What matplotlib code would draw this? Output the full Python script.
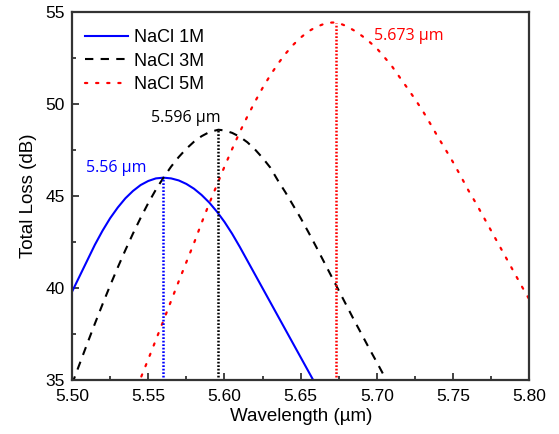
import numpy as np
import matplotlib
matplotlib.use("Agg")
import matplotlib.pyplot as plt
from matplotlib.ticker import MultipleLocator, FormatStrFormatter

# --- data ---
wl_1m = [5.500, 5.505, 5.510, 5.515, 5.520, 5.525, 5.530, 5.535, 5.540, 5.545,
         5.550, 5.555, 5.560, 5.565, 5.570, 5.575, 5.580, 5.585, 5.590, 5.595,
         5.600, 5.605, 5.610, 5.620, 5.630, 5.640, 5.650, 5.660]
loss_1m = [39.81, 40.66, 41.51, 42.36, 43.12, 43.80, 44.38, 44.88, 45.28, 45.60,
           45.82, 45.96, 46.00, 45.96, 45.85, 45.66, 45.40, 45.06, 44.65, 44.16,
           43.60, 42.96, 42.25, 40.75, 39.25, 37.75, 36.25, 34.75]

wl_3m = [5.500, 5.505, 5.510, 5.515, 5.520, 5.525, 5.530, 5.535, 5.540, 5.545,
         5.550, 5.555, 5.560, 5.565, 5.570, 5.575, 5.580, 5.585, 5.590, 5.596,
         5.600, 5.605, 5.610, 5.615, 5.620, 5.625, 5.630, 5.635, 5.640, 5.645,
         5.650, 5.655, 5.660, 5.665, 5.670, 5.675, 5.680, 5.685, 5.690, 5.695,
         5.700, 5.705, 5.710]
loss_3m = [34.80, 35.90, 37.00, 38.08, 39.13, 40.15, 41.13, 42.07, 42.97, 43.82,
           44.62, 45.35, 46.00, 46.60, 47.12, 47.57, 47.95, 48.25, 48.47, 48.60,
           48.56, 48.43, 48.22, 47.92, 47.53, 47.07, 46.55, 45.85, 45.20, 44.50,
           43.80, 43.05, 42.27, 41.47, 40.67, 39.87, 39.07, 38.27, 37.50, 36.72,
           35.97, 35.20, 34.43]

wl_5m = [5.540, 5.545, 5.550, 5.555, 5.560, 5.565, 5.570, 5.575, 5.580, 5.585,
         5.590, 5.595, 5.600, 5.605, 5.610, 5.615, 5.620, 5.625, 5.630, 5.635,
         5.640, 5.645, 5.650, 5.655, 5.660, 5.665, 5.670, 5.673, 5.675, 5.680,
         5.685, 5.690, 5.695, 5.700, 5.705, 5.710, 5.715, 5.720, 5.725, 5.730,
         5.735, 5.740, 5.745, 5.750, 5.755, 5.760, 5.765, 5.770, 5.775, 5.780,
         5.785, 5.790, 5.795, 5.800]
loss_5m = [34.10, 35.12, 36.15, 37.20, 38.25, 39.32, 40.38, 41.42, 42.45, 43.55,
           44.60, 45.60, 46.60, 47.55, 48.47, 49.32, 50.12, 50.87, 51.55, 52.17,
           52.72, 53.20, 53.60, 53.93, 54.17, 54.33, 54.41, 54.42, 54.38, 54.22,
           53.98, 53.70, 53.37, 53.00, 52.52, 52.02, 51.43, 50.85, 50.25, 49.62,
           48.92, 48.20, 47.52, 46.82, 46.07, 45.30, 44.60, 43.85, 43.10, 42.35,
           41.60, 40.85, 40.10, 39.38]

peak_wl = [5.56, 5.596, 5.673]
peak_loss = [46.0, 48.6, 54.4]
peak_text = ["5.56 \u00b5m", "5.596 \u00b5m", "5.673 \u00b5m"]
text_pos = [(5.5288, 46.52), (5.5746, 49.22), (5.7211, 53.66)]
colors = ["#0000ff", "#000000", "#ff0000"]

plt.rcParams['font.family'] = ['Liberation Sans', 'DejaVu Sans']

fig = plt.figure(figsize=(5.59, 4.34), dpi=100)
ax = fig.add_axes([0.1288, 0.1233, 0.9472 - 0.1288, 0.973 - 0.1233])

ax.plot(wl_1m, loss_1m, color=colors[0], lw=1.5, label="NaCl 1M")
ax.plot(wl_3m, loss_3m, color=colors[1], lw=1.5, linestyle=(0, (4, 3.5)), label="NaCl 3M")
ax.plot(wl_5m, loss_5m, color=colors[2], lw=1.6, linestyle=(0, (1, 4)),
        dash_capstyle='round', label="NaCl 5M")

# vertical markers at the peaks
for x, y, c in zip(peak_wl, peak_loss, colors):
    ax.plot([x, x], [35.2, y], color=c, lw=1.8, linestyle=(0, (0.7, 0.7)))

for (tx, ty), s, c in zip(text_pos, peak_text, colors):
    ax.text(tx, ty, s, color=c, fontsize=11.5, family=['Open Sans', 'DejaVu Sans'],
            ha='center', va='center')

ax.set_xlim(5.50, 5.80)
ax.set_ylim(35, 55)
ax.xaxis.set_major_locator(MultipleLocator(0.05))
ax.xaxis.set_minor_locator(MultipleLocator(0.025))
ax.xaxis.set_major_formatter(FormatStrFormatter('%.2f'))
ax.yaxis.set_major_locator(MultipleLocator(5))
ax.yaxis.set_minor_locator(MultipleLocator(2.5))
ax.tick_params(which='both', direction='in', labelsize=12.5, color='#222222', width=1.2)
ax.tick_params(which='major', length=5)
ax.tick_params(which='minor', length=3)
ax.tick_params(axis='x', pad=6)
ax.tick_params(axis='y', pad=5)
for sp in ax.spines.values():
    sp.set_color('#333333')
    sp.set_linewidth(1.6)

ax.set_xlabel("Wavelength (\u00b5m)", fontsize=13.5, labelpad=3)
ax.set_ylabel("Total Loss (dB)", fontsize=13.5, labelpad=6)

ax.legend(loc='upper left', frameon=False, fontsize=13, handlelength=2.4,
          handletextpad=0.33, labelspacing=0.35, borderaxespad=0.58,
          bbox_to_anchor=(-0.011, 1.0))

fig.savefig("out.png", dpi=100)
